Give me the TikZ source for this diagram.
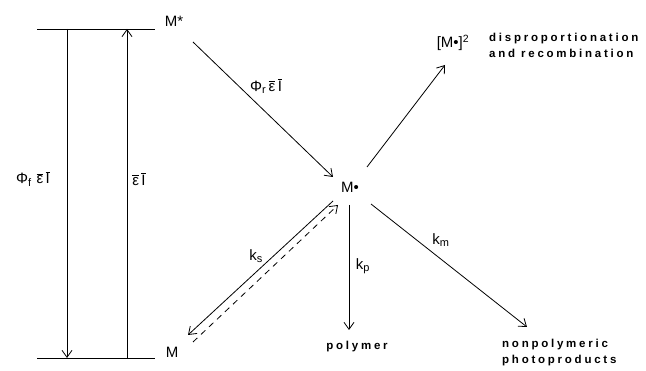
\documentclass[tikz,border=0pt]{standalone}
\usepackage{fontspec}
\setmainfont{Liberation Sans}
\newfontfamily\wordfont[LetterSpace=24]{Liberation Sans Bold}
\usetikzlibrary{arrows.meta}
\newcommand{\epsI}{$\overline{\mbox{ε}}\,\overline{\mbox{I}}$}
\tikzset{
  lbl/.style={inner sep=0pt, font=\fontsize{15}{15}\selectfont},
  word/.style={inner sep=0pt, font=\wordfont\fontsize{11.5}{16}\selectfont, align=left},
  arr/.style={line width=0.8pt, -{Straight Barb[length=7pt,width=10pt]}},
  lvl/.style={line width=0.9pt},
  dash arr/.style={arr, dash pattern=on 6pt off 5pt}
}
\begin{document}
\begin{tikzpicture}[x=1pt,y=-1pt]
\useasboundingbox (0,0) rectangle (646,371);
% levels
\coordinate (tl) at (37,29);
\coordinate (tr) at (155,29);
\coordinate (bl) at (37,358);
\coordinate (br) at (155,358);
\draw[lvl] (tl) -- (tr);
\draw[lvl] (bl) -- (br);
\coordinate (fa) at (67,29);
\coordinate (fb) at (67,358);
\coordinate (ea) at (127,358);
\coordinate (eb) at (127,29);
\draw[arr] (fa) -- (fb);
\draw[arr] (ea) -- (eb);
% nodes
\node[lbl] (Mstar) at (174,21) {M*};
\node[lbl] (M) at (172,352) {M};
\node[lbl] (Mdot) at (350,187) {M•};
\node[lbl] (dimer) at (453,43) {[M•]\textsuperscript{2}};
\node[word, anchor=west] (disp) at (489,45) {disproportionation\\and recombination};
\node[word] (poly) at (357,347) {polymer};
\node[word, anchor=west] (nonpoly) at (502,353) {nonpolymeric\\photoproducts};
% labels
\node[lbl] (lf) at (33,179) {Φ$_{\mbox{\fontsize{11}{11}\selectfont f}}$\,\,\epsI};
\node[lbl] (le) at (139,179) {\epsI};
\node[lbl] (lr) at (266,86) {Φ$_{\mbox{\fontsize{11}{11}\selectfont r}}$\,\epsI};
\node[lbl] (ks) at (256,256) {k$_{\mbox{\fontsize{11}{11}\selectfont s}}$};
\node[lbl] (kp) at (363,266) {k$_{\mbox{\fontsize{11}{11}\selectfont p}}$};
\node[lbl] (km) at (441,240) {k$_{\mbox{\fontsize{11}{11}\selectfont m}}$};
% arrow ends
\coordinate (a1) at (193,42);
\coordinate (a2) at (333,177);
\coordinate (b1) at (367,167);
\coordinate (b2) at (445,65);
\coordinate (c1) at (349,205);
\coordinate (c2) at (349,330);
\coordinate (d1) at (371,204);
\coordinate (d2) at (527,327);
\coordinate (s1) at (333,201);
\coordinate (s2) at (188,335);
\coordinate (t1) at (193,342);
\coordinate (t2) at (338,205);
\draw[arr] (a1) -- (a2);
\draw[arr] (b1) -- (b2);
\draw[arr] (c1) -- (c2);
\draw[arr] (d1) -- (d2);
\draw[arr] (s1) -- (s2);
\draw[dash arr] (t1) -- (t2);
\end{tikzpicture}
\end{document}
